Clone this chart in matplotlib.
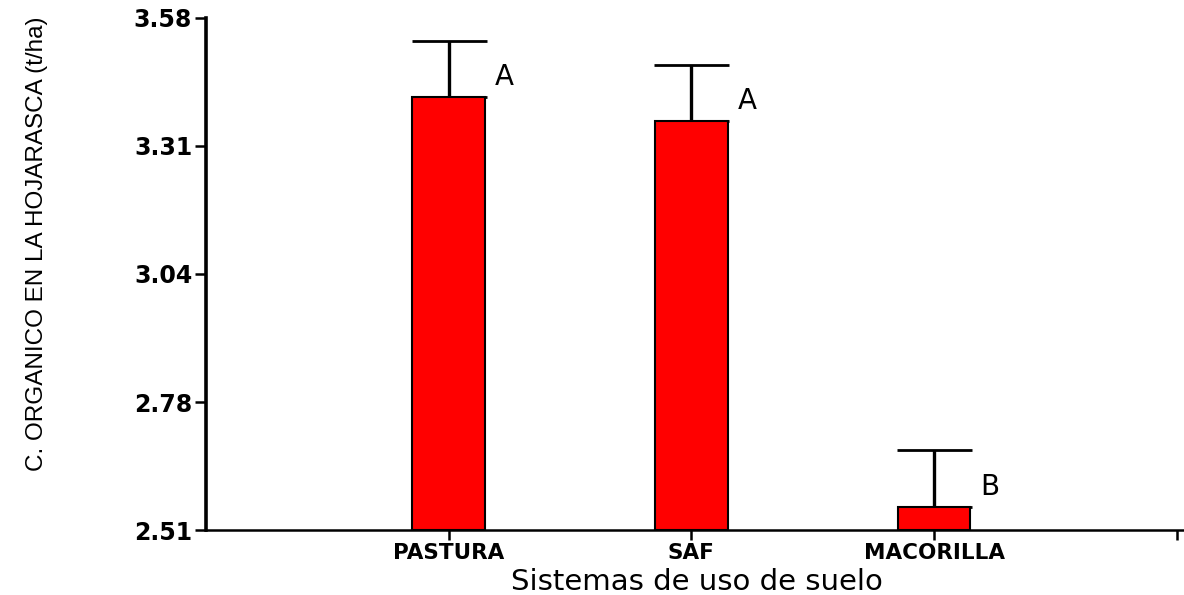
import matplotlib
matplotlib.use("Agg")
import matplotlib.pyplot as plt
import numpy as np

# Soil-use systems and leaf-litter organic carbon (t/ha)
categories = ["PASTURA", "SAF", "MACORILLA"]
means = [3.415, 3.365, 2.559]
errors = [0.117, 0.117, 0.118]
groups = ["A", "A", "B"]
ytick_labels = ["2.51", "2.78", "3.04", "3.31", "3.58"]
y_min, y_max = 2.51, 3.58

fig = plt.figure(figsize=(11.84, 5.95), dpi=100)
ax = fig.add_axes([0.174, 0.109, 0.826, 0.861])

x = np.arange(1, len(categories) + 1)
bar_w = 0.30
ax.bar(x, [m - y_min for m in means], bottom=y_min, width=bar_w,
       color="#ff0000", edgecolor="black", linewidth=1.5, zorder=2)
ax.errorbar(x, means, yerr=[np.zeros(len(errors)), errors], fmt="none",
            ecolor="black", elinewidth=2.4, capsize=27, capthick=2.0, zorder=1)

for xi, m, g in zip(x, means, groups):
    ax.annotate(g, xy=(xi + bar_w / 2, m), xytext=(7, 4), textcoords="offset points",
                ha="left", va="bottom", fontsize=20, family="DejaVu Sans")

for side in ("top", "right"):
    ax.spines[side].set_visible(False)
ax.spines["left"].set_linewidth(2.6)
ax.spines["bottom"].set_linewidth(1.8)

ax.set_xlim(0, 4.03)
ax.set_ylim(y_min, y_max)
ax.set_xticks(list(x) + [4])
ax.set_xticklabels(categories + [""], fontsize=15.5, fontweight="bold", family="DejaVu Sans")
ax.set_yticks(np.linspace(y_min, y_max, len(ytick_labels)))
ax.set_yticklabels(ytick_labels, fontsize=17, fontweight="bold", family="DejaVu Sans")
ax.tick_params(axis="y", direction="out", length=8, width=1.8, pad=2)
ax.tick_params(axis="x", direction="out", length=7, width=1.8, pad=2)

ax.set_xlabel("Sistemas de uso de suelo", fontsize=21, family="DejaVu Sans")
ax.xaxis.set_label_coords(0.502, -0.117)
ax.xaxis.label.set_va("baseline")
ax.set_ylabel("C. ORGANICO EN LA HOJARASCA (t/ha)", fontsize=17.5, family="Liberation Sans")
ax.yaxis.set_label_coords(-0.162, 0.56)

fig.savefig("out.png", dpi=100)
